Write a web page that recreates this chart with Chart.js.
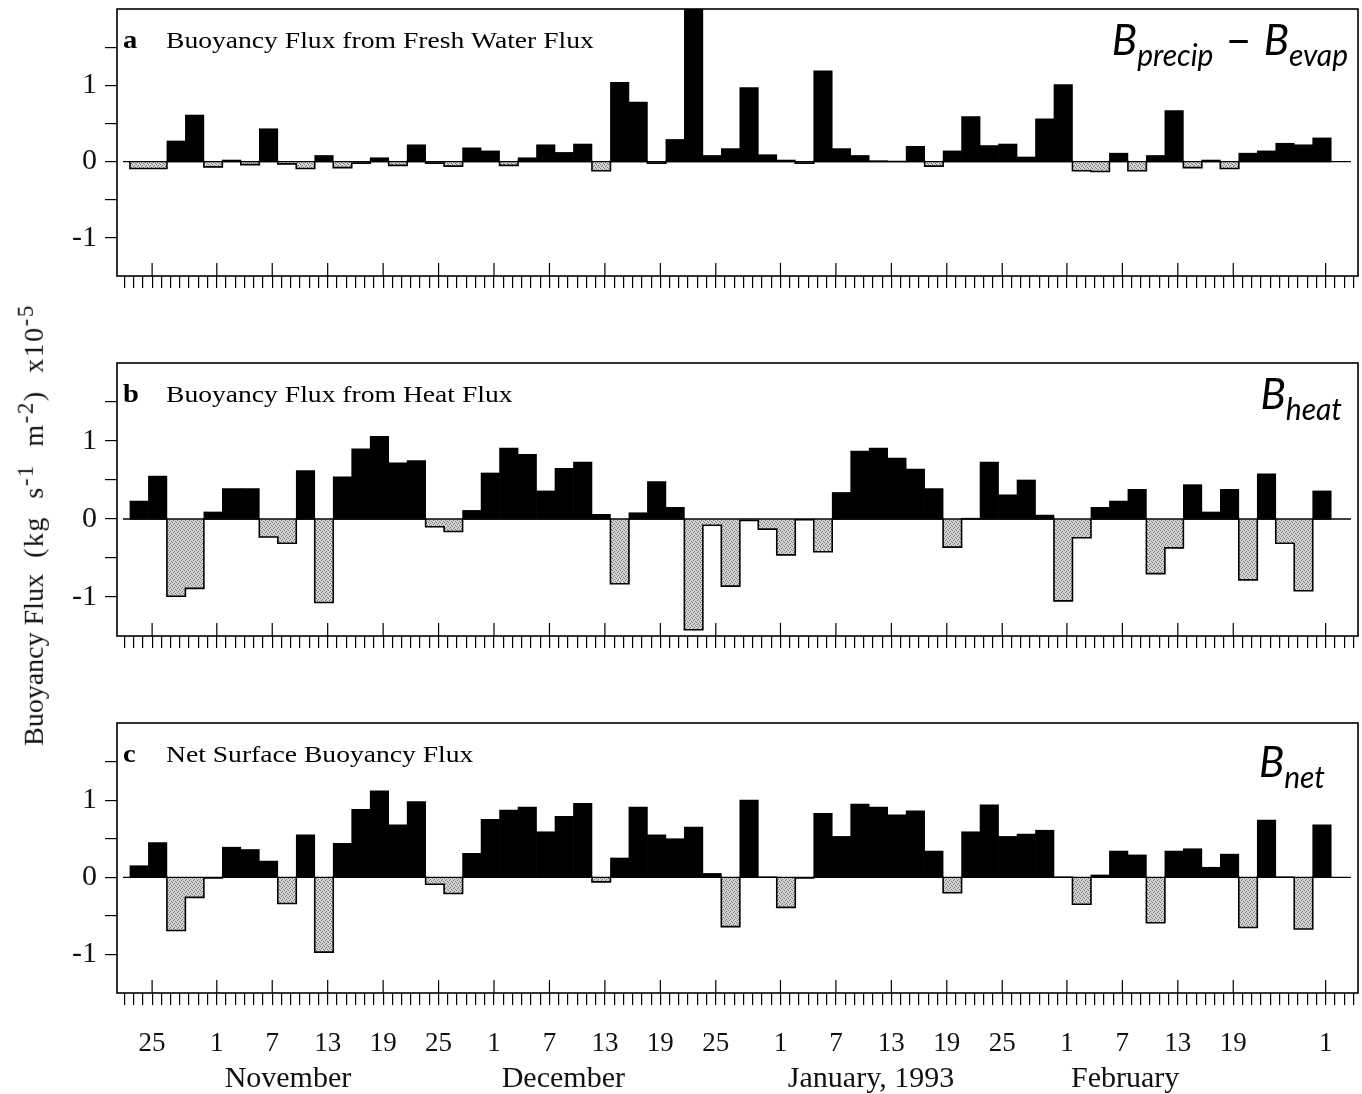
<!DOCTYPE html>
<html>
<head>
<meta charset="utf-8">
<title>Buoyancy Flux</title>
<script src="https://cdn.jsdelivr.net/npm/chart.js@4.4.0/dist/chart.umd.min.js"></script>
<style>
  html, body { margin: 0; padding: 0; background: #fff; }
  #page { position: relative; width: 1362px; height: 1094px; overflow: hidden; }
  .panel { position: absolute; left: 0; width: 1362px; }
  #yTitle {
    position: absolute; left: 31px; top: 525px;
    transform: translate(-50%, -50%) rotate(-90deg);
    font: 28px "Liberation Serif", "Times New Roman", serif;
    color: #111; white-space: nowrap; line-height: 1;
  }
  #yTitle .units { margin-left: 16px; word-spacing: 9px; letter-spacing: 1.5px; }
  #yTitle sup { font-size: 23px; }
</style>
</head>
<body>
<div id="page">
  <div class="panel" style="top:0;height:300px"><canvas id="chartA"></canvas></div>
  <div class="panel" style="top:354px;height:306px"><canvas id="chartB"></canvas></div>
  <div class="panel" style="top:714px;height:380px"><canvas id="chartC"></canvas></div>
  <div id="yTitle">Buoyancy Flux<span class="units">(kg s<sup>-1</sup> m<sup>-2</sup>) x10<sup>-5</sup></span></div>
</div>
<script>
// x values are day numbers counted from 1 Oct 1992; every bar covers two days
const firstBinDay = 21.6;
const binLength = 2;
const dayRange = [20.2, 154.5];

const freshWater = [-0.09, -0.09, 0.27, 0.61, -0.07, 0.02, -0.04, 0.43, -0.03, -0.09,
  0.08, -0.08, -0.02, 0.05, -0.05, 0.22, -0.02, -0.06, 0.18, 0.14,
  -0.05, 0.05, 0.22, 0.12, 0.23, -0.12, 1.04, 0.78, -0.02, 0.29,
  2.1, 0.08, 0.17, 0.97, 0.09, 0.02, -0.02, 1.19, 0.17, 0.08,
  0.01, 0.00, 0.20, -0.06, 0.14, 0.59, 0.21, 0.23, 0.06, 0.56,
  1.01, -0.12, -0.13, 0.11, -0.12, 0.08, 0.67, -0.08, 0.02, -0.09,
  0.11, 0.14, 0.24, 0.22, 0.31];

const heatFlux = [0.23, 0.55, -0.99, -0.89, 0.09, 0.39, 0.39, -0.23, -0.31, 0.62,
  -1.07, 0.54, 0.90, 1.06, 0.72, 0.75, -0.10, -0.16, 0.11, 0.59,
  0.91, 0.83, 0.36, 0.65, 0.73, 0.06, -0.83, 0.08, 0.48, 0.15,
  -1.42, -0.08, -0.86, -0.02, -0.13, -0.46, -0.01, -0.42, 0.34, 0.87,
  0.91, 0.78, 0.64, 0.39, -0.36, 0.01, 0.73, 0.31, 0.50, 0.05,
  -1.05, -0.24, 0.15, 0.23, 0.38, -0.70, -0.37, 0.44, 0.09, 0.38,
  -0.78, 0.58, -0.31, -0.92, 0.36];

const netFlux = [0.15, 0.45, -0.69, -0.26, -0.01, 0.39, 0.36, 0.21, -0.34, 0.55,
  -0.97, 0.44, 0.88, 1.12, 0.68, 0.98, -0.09, -0.21, 0.31, 0.75,
  0.87, 0.91, 0.59, 0.79, 0.96, -0.06, 0.25, 0.91, 0.55, 0.50,
  0.65, 0.05, -0.64, 1.00, 0.00, -0.39, -0.01, 0.83, 0.53, 0.95,
  0.91, 0.81, 0.86, 0.34, -0.20, 0.59, 0.94, 0.53, 0.56, 0.61,
  0.00, -0.35, 0.03, 0.34, 0.29, -0.59, 0.34, 0.37, 0.13, 0.30,
  -0.65, 0.74, 0.00, -0.67, 0.68];

const dateTicks = [24, 31, 37, 43, 49, 55, 61, 67, 73, 79, 85, 92, 98, 104, 110, 116, 123, 129, 135, 141, 151];
const dateLabels = ['25', '1', '7', '13', '19', '25', '1', '7', '13', '19', '25', '1', '7', '13', '19', '25', '1', '7', '13', '19', '1'];
const monthDays = [38.7, 68.5, 101.8, 129.3];
const monthLabels = ['November', 'December', 'January, 1993', 'February'];
const yRange = [-1.5, 2];
const yTicks = [-1, -0.5, 0, 0.5, 1, 1.5];

const serif = '"Liberation Serif", "Times New Roman", serif';

// dotted grey fill used for the negative bars
function makeStipple() {
  const c = document.createElement('canvas');
  c.width = 4; c.height = 4;
  const g = c.getContext('2d');
  g.fillStyle = '#d4d4d4';
  g.fillRect(0, 0, 4, 4);
  g.fillStyle = '#747474';
  g.fillRect(0, 0, 1, 1);
  g.fillRect(2, 1, 1, 1);
  g.fillRect(1, 2, 1, 1);
  g.fillRect(3, 3, 1, 1);
  return g.createPattern(c, 'repeat');
}
const stipple = makeStipple();

function stretchedText(ctx, text, x, y, font, sx) {
  ctx.save();
  ctx.font = font;
  ctx.translate(x, y);
  ctx.scale(sx, 1);
  ctx.fillText(text, 0, 0);
  ctx.restore();
}

const symbolFonts = {
  big: 'italic 42px Lato',
  sub: 'italic 30px Lato',
  dash: '46px Lato'
};

function drawSubscripted(ctx, parts, right, baseline) {
  let w = 0;
  parts.forEach(([t, kind]) => { ctx.font = symbolFonts[kind]; w += ctx.measureText(t).width; });
  let x = right - w;
  parts.forEach(([t, kind]) => {
    ctx.font = symbolFonts[kind];
    ctx.fillText(t, x, baseline + (kind === 'sub' ? 11 : 0));
    x += ctx.measureText(t).width;
  });
}

// frame, zero line, inward date ticks, panel title and symbol
const panelFrame = {
  id: 'panelFrame',
  afterDatasetsDraw(chart, args, opts) {
    const { ctx, chartArea: a } = chart;
    const y0 = chart.scales.y.getPixelForValue(0);
    const days = chart.scales.days;
    ctx.save();
    ctx.strokeStyle = '#000';
    ctx.lineWidth = 1.3;
    ctx.beginPath();
    ctx.moveTo(a.left + 6, y0);
    ctx.lineTo(a.right - 7, y0);
    ctx.stroke();

    ctx.lineWidth = 1.6;
    ctx.strokeRect(a.left, a.top, a.right - a.left, a.bottom - a.top);

    ctx.lineWidth = 1.2;
    dateTicks.forEach(d => {
      const x = days.getPixelForValue(d);
      ctx.beginPath();
      ctx.moveTo(x, a.bottom);
      ctx.lineTo(x, a.bottom - 13);
      ctx.stroke();
    });

    ctx.fillStyle = '#000';
    ctx.textBaseline = 'alphabetic';
    stretchedText(ctx, opts.letter, a.left + 6, a.top + 39, 'bold 26px ' + serif, 1.1);
    stretchedText(ctx, opts.title, a.left + 49, a.top + 39, '23px ' + serif, 1.2);
    drawSubscripted(ctx, opts.symbol, a.right - opts.symbolRight, a.top + opts.symbolBase);
    ctx.restore();
  }
};

function noSidePadding(s) {
  s.paddingLeft = 0;
  s.paddingRight = 0;
}

function buildPanel(canvasId, values, conf) {
  const bars = values.map((v, i) => ({ x: firstBinDay + binLength * (i + 0.5), y: v }));
  const lastEdge = firstBinDay + binLength * values.length;
  // outline around the dotted (negative) bars
  const outline = [{ x: firstBinDay, y: 0 }];
  values.forEach((v, i) => outline.push({ x: firstBinDay + binLength * i, y: Math.min(v, 0) }));
  outline.push({ x: lastEdge, y: 0 });

  const scales = {
    x: {
      type: 'linear', display: false, min: dayRange[0], max: dayRange[1],
      offset: false, grid: { offset: false },
      afterBuildTicks: s => { s.ticks = [{ value: s.min }, { value: s.max }]; }
    },
    days: {
      axis: 'x', type: 'linear', position: 'bottom', weight: 0,
      min: dayRange[0], max: dayRange[1], offset: false,
      grid: { offset: false, drawOnChartArea: false, drawTicks: true, tickLength: 12, color: '#000', lineWidth: 1.2 },
      border: { display: false },
      ticks: {
        display: conf.showLabels, autoSkip: false, maxRotation: 0, minRotation: 0,
        padding: 23, color: '#111', font: { family: serif, size: 27 },
        callback: v => { const k = dateTicks.indexOf(v); return k >= 0 ? dateLabels[k] : ''; }
      },
      afterBuildTicks: s => {
        const t = [];
        for (let d = Math.ceil(s.min); d <= Math.floor(s.max); d++) t.push({ value: d });
        s.ticks = t;
      },
      afterFit: s => { s.height = conf.daysHeight; noSidePadding(s); }
    },
    y: {
      type: 'linear', position: 'left', min: yRange[0], max: yRange[1],
      grid: { drawOnChartArea: false, drawTicks: true, tickLength: 12, color: '#000', lineWidth: 1.2 },
      border: { display: false },
      ticks: {
        padding: 8, color: '#111', font: { family: serif, size: 30 },
        callback: v => Number.isInteger(v) ? String(v) : ''
      },
      afterBuildTicks: s => { s.ticks = yTicks.map(v => ({ value: v })); },
      afterFit: s => { s.width = 117; s.paddingTop = 0; s.paddingBottom = 0; }
    }
  };
  if (conf.showLabels) {
    scales.months = {
      axis: 'x', type: 'linear', position: 'bottom', weight: 1,
      min: dayRange[0], max: dayRange[1], offset: false,
      grid: { display: false, offset: false },
      border: { display: false },
      ticks: {
        autoSkip: false, maxRotation: 0, minRotation: 0, padding: 0,
        color: '#111', font: { family: serif, size: 30 },
        callback: v => { const k = monthDays.indexOf(v); return k >= 0 ? monthLabels[k] : ''; }
      },
      afterBuildTicks: s => { s.ticks = monthDays.map(v => ({ value: v })); },
      afterFit: s => { s.height = conf.monthsHeight; noSidePadding(s); }
    };
  }

  return new Chart(document.getElementById(canvasId), {
    type: 'bar',
    data: {
      datasets: [{
        data: bars,
        xAxisID: 'x', yAxisID: 'y',
        backgroundColor: values.map(v => v < 0 ? stipple : '#000'),
        borderWidth: 0,
        barPercentage: 1,
        categoryPercentage: 1,
        order: 1
      }, {
        type: 'line',
        data: outline,
        xAxisID: 'x', yAxisID: 'y',
        stepped: 'before',
        borderColor: '#000',
        borderWidth: 1.6,
        pointRadius: 0,
        fill: false,
        order: 0
      }]
    },
    options: {
      responsive: true,
      maintainAspectRatio: false,
      animation: false,
      events: [],
      layout: { padding: { top: 9, right: 4, left: 0, bottom: 0 } },
      plugins: {
        legend: { display: false },
        tooltip: { enabled: false },
        panelFrame: conf.frame
      },
      scales: scales
    },
    plugins: [panelFrame]
  });
}

buildPanel('chartA', freshWater, {
  showLabels: false, daysHeight: 24,
  frame: {
    letter: 'a', title: 'Buoyancy Flux from Fresh Water Flux',
    symbol: [['B', 'big'], ['precip', 'sub'], [' \u2013 ', 'dash'], ['B', 'big'], ['evap', 'sub']],
    symbolRight: 10, symbolBase: 46
  }
});

buildPanel('chartB', heatFlux, {
  showLabels: false, daysHeight: 24,
  frame: {
    letter: 'b', title: 'Buoyancy Flux from Heat Flux',
    symbol: [['B', 'big'], ['heat', 'sub']],
    symbolRight: 16, symbolBase: 46
  }
});

buildPanel('chartC', netFlux, {
  showLabels: true, daysHeight: 60, monthsHeight: 41,
  frame: {
    letter: 'c', title: 'Net Surface Buoyancy Flux',
    symbol: [['B', 'big'], ['net', 'sub']],
    symbolRight: 33, symbolBase: 54
  }
});
</script>
</body>
</html>
